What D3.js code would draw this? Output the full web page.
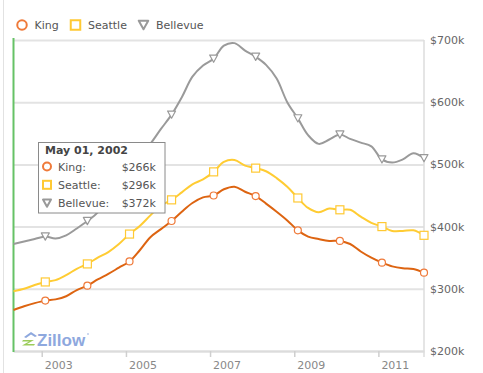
<!DOCTYPE html>
<html>
<head>
<meta charset="utf-8">
<script src="https://cdn.jsdelivr.net/npm/d3@7"></script>
<style>
  body { margin: 0; background: #fff; }
  svg { display: block; font-family: "DejaVu Sans", Verdana, sans-serif; }
</style>
</head>
<body>
<svg id="chart" width="483" height="373"></svg>
<script>
// quarterly readings, May 2002 .. Feb 2012 (values in $k)
const months = [
  "2002-05","2002-08","2002-11",
  "2003-02","2003-05","2003-08","2003-11",
  "2004-02","2004-05","2004-08","2004-11",
  "2005-02","2005-05","2005-08","2005-11",
  "2006-02","2006-05","2006-08","2006-11",
  "2007-02","2007-05","2007-08","2007-11",
  "2008-02","2008-05","2008-08","2008-11",
  "2009-02","2009-05","2009-08","2009-11",
  "2010-02","2010-05","2010-08","2010-11",
  "2011-02","2011-05","2011-08","2011-11",
  "2012-02"
];
const king = [
  266, 272, 277,
  281, 283, 288, 298,
  305, 315, 324, 334,
  344, 362, 383, 396,
  409, 424, 438, 447,
  450, 460, 464, 456,
  449, 437, 424, 410,
  394, 384, 380, 377,
  377, 372, 360, 350,
  342, 336, 333, 332,
  326
];
const seattle = [
  296, 300, 306,
  311, 314, 322, 332,
  340, 350, 359, 372,
  388, 401, 418, 434,
  443, 455, 468, 476,
  488, 504, 507, 498,
  494, 489, 478, 464,
  446, 430, 423, 429,
  427, 427, 416, 406,
  400, 393, 393, 394,
  386
];
const bellevue = [
  372, 376, 380,
  384, 381, 386, 397,
  409, 423, 452, 472,
  491, 513, 533, 557,
  580, 608, 641, 659,
  670, 691, 695, 683,
  673, 660, 638, 600,
  574, 547, 533, 540,
  548, 541, 535, 529,
  508, 503, 508, 518,
  510
];
const seriesNames = ["King", "Seattle", "Bellevue"];
const yTicks = [200, 300, 400, 500, 600, 700];
const xTickYears = [2003, 2005, 2007, 2009, 2011];
const hoverIndex = 0; // tooltip shows the first reading

const parse = d3.timeParse("%Y-%m");
const dates = months.map(parse);

const svg = d3.select("#chart");
const plotL = 13.5, plotR = 424, plotT = 40, plotB = 351;

const x = d3.scaleTime().domain([dates[0], dates[dates.length - 1]]).range([plotL, plotR]);
const y = d3.scaleLinear().domain([200, 700]).range([plotB, plotT]);

const series = [
  { name: seriesNames[0], values: king, line: "#dd6411", mark: "#ef7a3a", shape: "circle" },
  { name: seriesNames[1], values: seattle, line: "#ffcc33", mark: "#ffc933", shape: "square" },
  { name: seriesNames[2], values: bellevue, line: "#9a9a9a", mark: "#999999", shape: "triangle" }
];

// outer left border
svg.append("line").attr("x1", 3.5).attr("x2", 3.5).attr("y1", 0).attr("y2", 373)
  .attr("stroke", "#e2e2e2");

// y grid + labels
const yAxis = svg.append("g")
  .attr("transform", `translate(${plotR},0)`)
  .call(d3.axisRight(y).tickValues(yTicks).tickSize(-(plotR - plotL)).tickPadding(6)
    .tickFormat(d => "$" + d + "k"));
yAxis.select(".domain").remove();
yAxis.selectAll(".tick line").attr("stroke", "#e3e3e3").attr("stroke-width", 2);
yAxis.selectAll(".tick text").attr("fill", "#666").style("font-size", "11px")
  .style("font-family", "DejaVu Sans, Verdana, sans-serif");

// right frame line
svg.append("line").attr("x1", plotR).attr("x2", plotR).attr("y1", plotT).attr("y2", plotB + 6)
  .attr("stroke", "#dcdcdc").attr("stroke-width", 1.5);

// x axis
const xAxis = svg.append("g")
  .attr("transform", `translate(0,${plotB})`)
  .call(d3.axisBottom(x).tickValues(xTickYears.map(yr => new Date(yr, 0, 1)))
    .tickSizeInner(6).tickSizeOuter(0).tickFormat(d3.timeFormat("%Y")));
xAxis.select(".domain").attr("stroke", "#dcdcdc").attr("stroke-width", 2);
xAxis.selectAll(".tick line").attr("stroke", "#cfcfcf").attr("stroke-width", 1.5);
xAxis.selectAll(".tick text").attr("fill", "#888").style("font-size", "11px")
  .style("font-family", "DejaVu Sans, Verdana, sans-serif")
  .attr("text-anchor", "start").attr("dx", 2.5).attr("y", 10);

// hover cursor line
svg.append("line")
  .attr("x1", x(dates[hoverIndex])).attr("x2", x(dates[hoverIndex]))
  .attr("y1", plotT - 2).attr("y2", plotB + 1)
  .attr("stroke", "#66c266").attr("stroke-width", 2);

// marker helper
function drawMarker(g, shape, cx, cy, size, color, sw) {
  if (shape === "circle") {
    g.append("circle").attr("cx", cx).attr("cy", cy).attr("r", size / 2)
      .attr("fill", "#fff").attr("stroke", color).attr("stroke-width", sw);
  } else if (shape === "square") {
    g.append("rect").attr("x", cx - size / 2).attr("y", cy - size / 2)
      .attr("width", size).attr("height", size)
      .attr("fill", "#fff").attr("stroke", color).attr("stroke-width", sw);
  } else {
    const h = size * 0.9;
    g.append("path")
      .attr("d", `M${cx - size / 2},${cy - h / 2}L${cx + size / 2},${cy - h / 2}L${cx},${cy + h / 2}Z`)
      .attr("fill", "#fff").attr("stroke", color).attr("stroke-width", sw)
      .attr("stroke-linejoin", "round");
  }
}

const line = d3.line()
  .x((d, i) => x(dates[i]))
  .y(d => y(d))
  .curve(d3.curveCatmullRom.alpha(0.5));

const plot = svg.append("g");
series.slice().reverse().forEach(s => {
  plot.append("path")
    .attr("d", line(s.values))
    .attr("fill", "none")
    .attr("stroke", s.line)
    .attr("stroke-width", 2);
});
series.forEach(s => {
  const mg = plot.append("g");
  s.values.forEach((v, i) => {
    if (i % 4 !== 3) return; // one marker a year (each February)
    drawMarker(mg, s.shape, x(dates[i]), y(v), s.shape === "circle" ? 7 : 8, s.mark, 1.2);
  });
});

// legend
const legendX = [22, 75.5, 143.5];
series.forEach((s, i) => {
  const g = svg.append("g");
  drawMarker(g, s.shape, legendX[i], 25, 9.5, s.mark, 2);
  g.append("text").attr("x", legendX[i] + 12.5).attr("y", 29)
    .attr("fill", "#555").style("font-size", "11px").text(s.name);
});

// tooltip
const tip = svg.append("g");
tip.append("rect").attr("x", 38.5).attr("y", 142.5).attr("width", 126.5).attr("height", 70.5)
  .attr("fill", "#fff").attr("stroke", "#8a8a8a").attr("stroke-width", 1);
tip.append("text").attr("x", 45).attr("y", 154).attr("fill", "#444")
  .style("font-size", "11px").style("font-weight", "bold")
  .text(d3.timeFormat("%b %d, %Y")(dates[hoverIndex]));
series.forEach((s, i) => {
  const cy = 166.5 + i * 18.3;
  drawMarker(tip, s.shape, 47, cy, 8, s.mark, 2);
  tip.append("text").attr("x", 58).attr("y", cy + 4).attr("fill", "#555")
    .style("font-size", "11px").text(s.name + ":");
  tip.append("text").attr("x", 156).attr("y", cy + 4).attr("fill", "#555")
    .attr("text-anchor", "end").style("font-size", "11px")
    .text("$" + Math.round(s.values[hoverIndex]) + "k");
});

// Zillow mark
const logo = svg.append("g").attr("transform", "translate(22,331)");
logo.append("path").attr("d", "M2,6 L9,1 L15,5 L13,6 L9,3.5 L4,7 Z").attr("fill", "#8ea8de");
logo.append("path").attr("d", "M1,9 L12,9 L5,13 L13,13 L12,14.5 L0,14.5 L7,10.5 L0,10.5 Z").attr("fill", "#9ccc5a");
logo.append("text").attr("x", 15).attr("y", 14.5)
  .style("font-family", "Liberation Sans, Arial, sans-serif")
  .style("font-size", "17px").style("font-weight", "bold")
  .attr("fill", "#8ea8de").text("Zillow");
logo.append("circle").attr("cx", 66).attr("cy", 3).attr("r", 0.8).attr("fill", "#8ea8de");
</script>
</body>
</html>
